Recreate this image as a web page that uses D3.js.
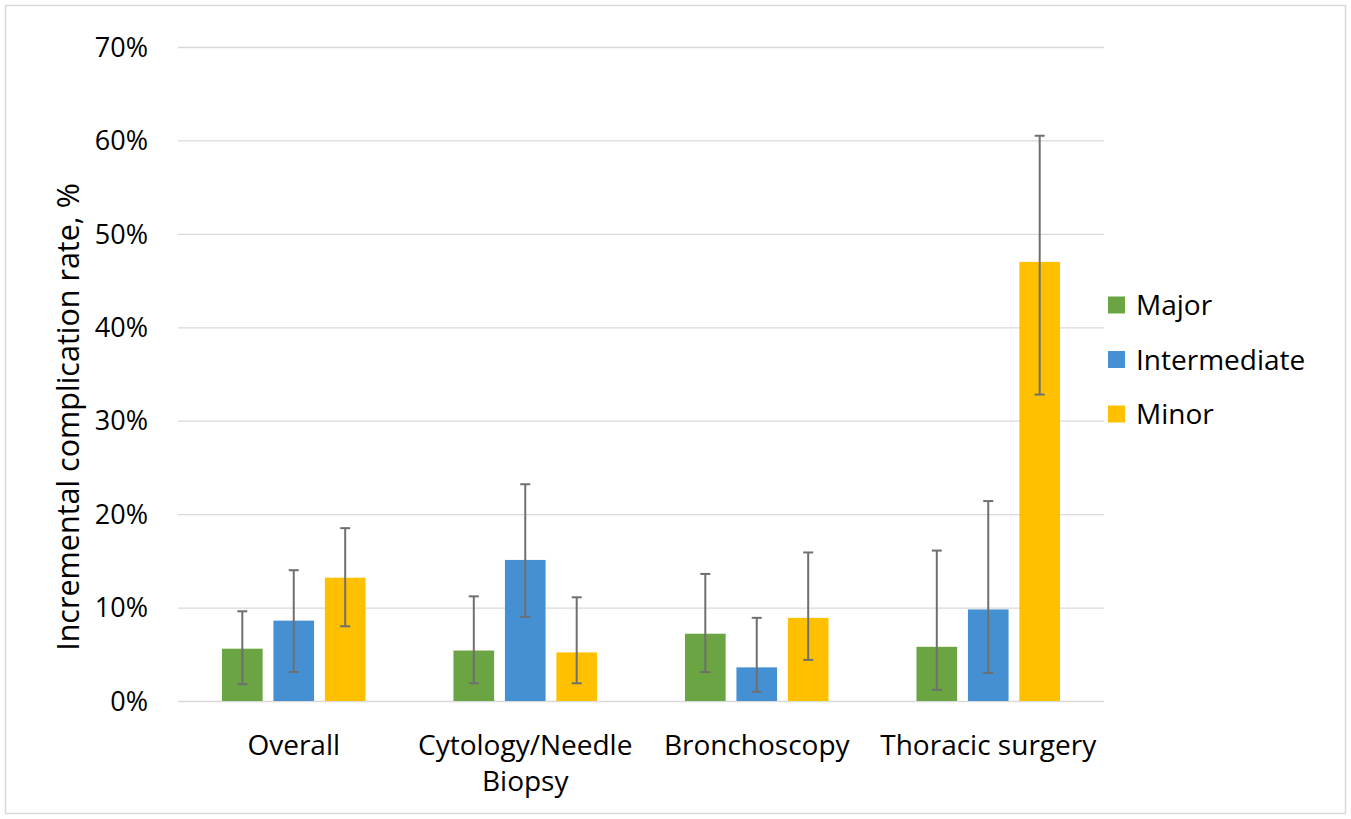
<!DOCTYPE html>
<html>
<head>
<meta charset="utf-8">
<script src="https://d3js.org/d3.v7.min.js"></script>
<style>
  * { margin:0; padding:0; box-sizing:border-box; }
  body { background:#fff; overflow:hidden; font-family:'Open Sans', sans-serif; }
  svg { display:block; }
</style>
</head>
<body>
<svg id="chart" width="1351" height="819"></svg>
<script>
// ── Data ─────────────────────────────────────────────────────────────────────
const categories = ["Overall", "Cytology/Needle Biopsy", "Bronchoscopy", "Thoracic surgery"];
const catLines   = [["Overall"], ["Cytology/Needle", "Biopsy"], ["Bronchoscopy"], ["Thoracic surgery"]];
const series     = ["Major", "Intermediate", "Minor"];
const colors     = ["#6aa443", "#4590d3", "#ffc000"];

// values in % per series, order of categories
const values = {
  Major:        [5.6, 5.4, 7.2, 5.8],
  Intermediate: [8.6, 15.1, 3.6, 9.8],
  Minor:        [13.2, 5.2, 8.9, 47.0]
};
const errLow = {
  Major:        [1.8, 1.9, 3.1, 1.2],
  Intermediate: [3.1, 9.0, 1.0, 3.0],
  Minor:        [8.0, 1.9, 4.4, 32.8]
};
const errHigh = {
  Major:        [9.6, 11.2, 13.6, 16.1],
  Intermediate: [14.0, 23.2, 8.9, 21.4],
  Minor:        [18.5, 11.1, 15.9, 60.5]
};
const yTicks = [0, 10, 20, 30, 40, 50, 60, 70];

// ── Layout ───────────────────────────────────────────────────────────────────
const svg = d3.select("#chart");
const W = 1351, H = 819;
const m = { left: 178, right: 247, top: 47, bottom: 118 };

svg.append("rect")
  .attr("x", 5.5).attr("y", 5.5)
  .attr("width", W - 11).attr("height", H - 11)
  .attr("fill", "#fff").attr("stroke", "#d9d9d9").attr("stroke-width", 1.5);

const y = d3.scaleLinear().domain([0, 70]).range([H - m.bottom, m.top]);
const x0 = d3.scaleBand().domain(categories)
  .range([m.left, W - m.right]).paddingInner(0.38).paddingOuter(0.19);
const x1 = d3.scaleBand().domain(series)
  .range([0, x0.bandwidth()]).paddingInner(0.21).paddingOuter(0);

// gridlines
svg.append("g").selectAll("line").data(yTicks).join("line")
  .attr("x1", m.left).attr("x2", W - m.right)
  .attr("y1", d => y(d) + 0.5).attr("y2", d => y(d) + 0.5)
  .attr("stroke", "#d9d9d9").attr("stroke-width", 1.3);

// y tick labels
svg.append("g").selectAll("text").data(yTicks).join("text")
  .attr("x", 148).attr("y", d => y(d))
  .attr("dy", "0.36em")
  .attr("text-anchor", "end")
  .attr("font-size", 27).attr("fill", "#000")
  .text(d => d + "%");

// y title
svg.append("text")
  .attr("transform", "translate(79,417) rotate(-90)")
  .attr("text-anchor", "middle")
  .attr("font-size", 30.5).attr("fill", "#000")
  .text("Incremental complication rate, %");

// bars
const groups = svg.append("g").selectAll("g").data(categories).join("g")
  .attr("transform", d => "translate(" + x0(d) + ",0)");

groups.each(function(cat, ci) {
  const g = d3.select(this);
  series.forEach(function(s, si) {
    const bx = x1(s), bw = x1.bandwidth();
    g.append("rect")
      .attr("x", bx).attr("width", bw)
      .attr("y", y(values[s][ci]))
      .attr("height", y(0) - y(values[s][ci]))
      .attr("fill", colors[si]);
    const cx = bx + bw / 2;
    const eg = g.append("g").attr("stroke", "#6f6f6f").attr("stroke-width", 2);
    eg.append("line").attr("x1", cx).attr("x2", cx)
      .attr("y1", y(errHigh[s][ci])).attr("y2", y(errLow[s][ci]));
    [errHigh[s][ci], errLow[s][ci]].forEach(function(v) {
      eg.append("line").attr("x1", cx - 5).attr("x2", cx + 5)
        .attr("y1", y(v)).attr("y2", y(v));
    });
  });
});

// category labels
catLines.forEach(function(lines, i) {
  const cx = x0(categories[i]) + x0.bandwidth() / 2;
  const t = svg.append("text")
    .attr("text-anchor", "middle")
    .attr("font-size", 28).attr("fill", "#000");
  lines.forEach(function(l, li) {
    t.append("tspan").attr("x", cx).attr("y", 755 + li * 36).text(l);
  });
});

// legend
const leg = svg.append("g").selectAll("g").data(series).join("g")
  .attr("transform", (d, i) => "translate(1108," + (305 + i * 54.5) + ")");
leg.append("rect")
  .attr("x", 0).attr("y", -8.5).attr("width", 17).attr("height", 17)
  .attr("fill", (d, i) => colors[i]);
leg.append("text")
  .attr("x", 28).attr("dy", "0.36em")
  .attr("font-size", 28).attr("fill", "#000")
  .text(d => d);
</script>
</body>
</html>
